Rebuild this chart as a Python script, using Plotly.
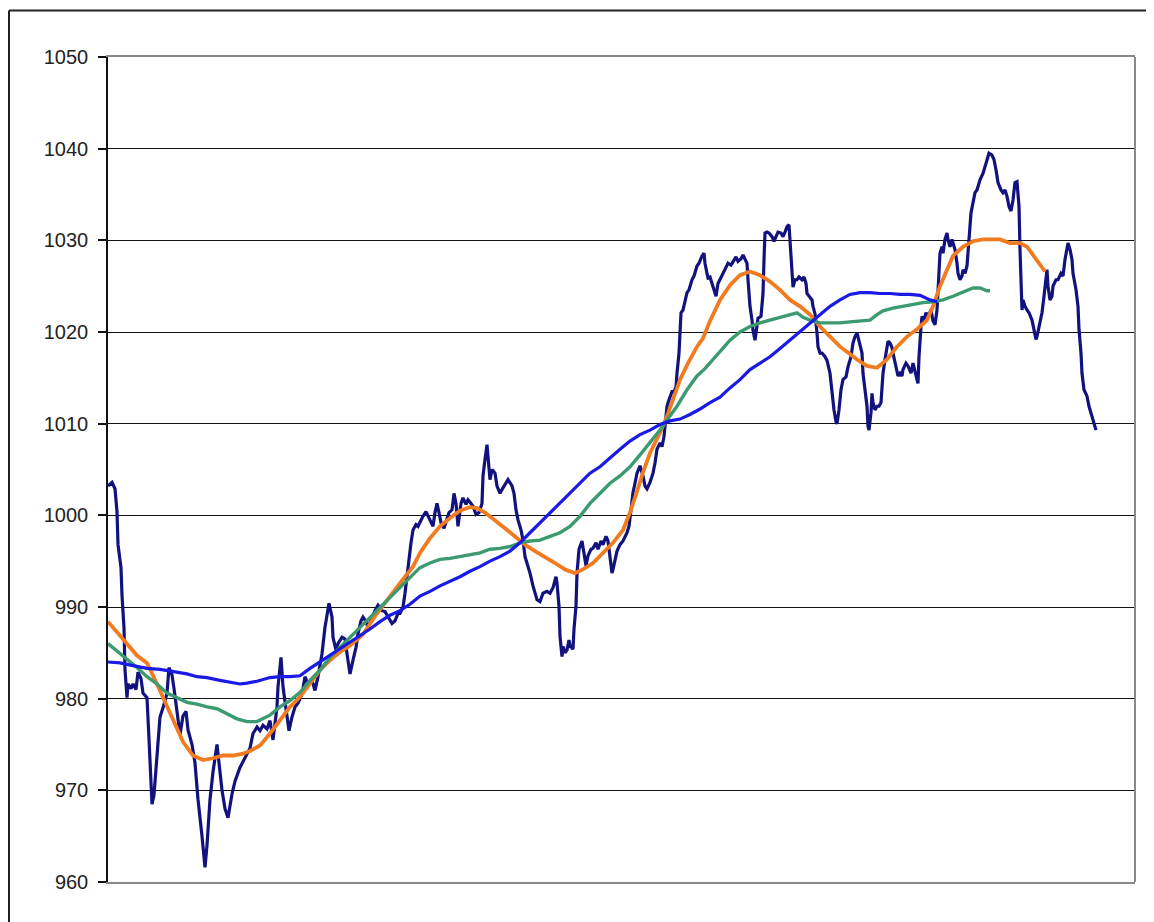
import plotly.graph_objects as go

# ---- data (x = trading-day index, y = index level) ----
price = [
    (0,1003.2),(4,1003.6),(7,1002.9),(9,1000.4),(10,996.8),(13,994.3),(14,991.3),(16,987.7),(17,983.2),(19,980.1),
    (20,981.6),(23,981.1),(25,981.6),(28,981.0),(30,982.9),(33,982.2),(35,980.6),(39,980.1),(41,975.6),(44,968.5),
    (46,969.5),(49,974.0),(52,978.0),(55,979.0),(59,980.6),(61,983.4),(64,982.6),(66,981.1),(69,978.4),(72,976.1),
    (75,978.1),(78,978.6),(80,976.6),(84,975.0),(87,973.0),(90,969.0),(94,965.0),(97,961.6),(99,964.0),(102,969.0),
    (105,972.0),(109,975.0),(111,973.0),(114,970.0),(117,968.0),(120,967.0),(124,969.6),(127,971.0),(132,972.5),(137,973.5),
    (142,974.6),(145,976.2),(149,976.9),(152,976.5),(155,977.1),(159,976.7),(162,977.6),(165,975.5),(169,979.1),(170,981.3),
    (173,984.5),(175,981.3),(177,979.5),(179,978.0),(181,976.5),(184,978.0),(187,979.1),(190,979.5),(194,980.5),(197,982.4),
    (200,981.6),(204,982.0),(207,980.9),(210,982.4),(214,984.9),(217,987.8),(219,989.3),(221,990.4),(224,988.9),(225,986.7),
    (228,985.3),(230,986.0),(234,986.7),(237,986.5),(239,984.9),(242,982.7),(245,984.2),(248,985.6),(250,987.1),(253,988.5),
    (255,988.9),(258,988.4),(260,987.8),(264,988.9),(267,989.6),(270,990.2),(274,989.6),(277,989.5),(280,988.9),(284,988.2),
    (287,988.5),(290,989.3),(292,989.3),(295,990.0),(297,991.5),(300,994.4),(303,997.0),(305,998.4),(308,999.0),(310,998.8),
    (313,999.5),(315,999.9),(318,1000.4),(320,999.9),(323,999.2),(325,998.8),(327,1000.3),(329,1001.3),(331,1000.3),(333,999.2),
    (336,998.6),(339,999.5),(341,1000.3),(344,1000.6),(346,1002.4),(348,1001.3),(350,998.8),(353,1001.3),(355,1001.9),(358,1001.2),
    (360,1001.7),(363,1001.3),(365,1001.0),(368,1000.1),(371,1000.3),(374,1001.3),(375,1004.3),(377,1006.1),(379,1007.7),(380,1006.4),
    (382,1003.9),(384,1005.0),(387,1004.6),(389,1003.2),(392,1002.4),(395,1003.0),(398,1003.5),(400,1003.9),(404,1003.2),(406,1002.4),
    (408,1000.6),(410,999.5),(413,998.4),(415,997.3),(417,995.5),(419,994.8),(422,993.7),(425,992.3),(427,991.5),(429,990.8),
    (432,990.6),(435,991.5),(439,991.7),(442,991.5),(445,992.1),(448,993.3),(449,992.6),(451,990.1),(452,986.8),(454,984.6),
    (455,985.7),(457,985.0),(459,985.3),(461,986.4),(462,985.8),(465,985.4),(466,987.6),(468,990.1),(469,993.7),(471,996.3),
    (474,997.2),(476,995.6),(478,994.5),(480,995.6),(483,996.3),(485,996.4),(488,997.0),(490,996.3),(493,997.2),(495,996.8),
    (498,997.7),(500,997.2),(502,995.6),(504,993.7),(505,994.1),(507,995.2),(509,996.1),(512,996.8),(515,997.2),(519,998.1),
    (521,998.8),(523,1000.6),(525,1002.5),(527,1003.5),(529,1004.6),(532,1005.4),(535,1004.3),(537,1003.2),(539,1002.9),(542,1003.6),
    (545,1004.6),(547,1005.7),(549,1007.2),(552,1007.9),(554,1007.5),(556,1008.6),(558,1010.4),(559,1011.9),(561,1012.6),(564,1013.5),
    (566,1013.5),(568,1014.0),(569,1015.5),(571,1017.7),(572,1019.9),(573,1022.1),(575,1022.4),(577,1023.2),(579,1024.3),(581,1024.6),
    (584,1025.7),(586,1026.1),(589,1027.2),(591,1027.5),(594,1028.3),(596,1028.6),(597,1027.5),(599,1026.4),(600,1025.9),(602,1026.0),
    (604,1025.3),(606,1024.6),(608,1023.9),(610,1025.3),(613,1026.0),(615,1026.4),(618,1027.1),(620,1027.5),(623,1027.3),(625,1027.7),
    (628,1028.2),(630,1027.7),(633,1028.0),(635,1028.4),(637,1027.9),(639,1027.5),(640,1025.7),(642,1022.8),(644,1021.3),(645,1020.2),
    (647,1019.1),(649,1020.6),(650,1021.5),(653,1021.7),(655,1024.2),(656,1027.9),(657,1030.8),(659,1030.9),(661,1030.8),(664,1030.4),
    (666,1029.9),(668,1030.4),(670,1030.9),(673,1030.8),(675,1030.4),(677,1030.9),(679,1031.5),(681,1031.7),(682,1029.7),(684,1027.1),
    (685,1024.9),(687,1025.7),(689,1025.7),(691,1026.0),(694,1025.7),(696,1026.0),(698,1025.3),(699,1024.2),(701,1023.9),(704,1023.5),
    (705,1022.8),(707,1022.0),(709,1019.9),(710,1018.4),(712,1017.7),(714,1017.7),(717,1017.3),(719,1016.9),(722,1015.5),(724,1013.3),
    (726,1011.5),(728,1010.2),(729,1010.0),(731,1011.5),(733,1013.7),(735,1014.8),(738,1015.1),(740,1016.2),(743,1017.3),(745,1018.8),
    (747,1019.5),(749,1019.9),(751,1019.1),(752,1018.4),(754,1017.7),(755,1015.5),(757,1013.3),(759,1011.9),(760,1009.7),(761,1009.3),
    (763,1011.2),(764,1013.3),(765,1012.3),(767,1011.5),(769,1011.9),(771,1011.9),(773,1012.3),(774,1014.1),(775,1015.5),(777,1017.0),
    (779,1018.4),(780,1019.0),(782,1018.8),(784,1018.3),(785,1017.7),(787,1016.6),(789,1015.5),(790,1015.2),(792,1015.5),(794,1015.2),
    (795,1015.9),(798,1016.6),(800,1016.3),(803,1015.5),(805,1016.6),(807,1015.5),(809,1014.8),(810,1014.4),(811,1017.3),(813,1020.6),
    (814,1021.7),(816,1021.2),(818,1022.1),(820,1021.7),(823,1022.4),(825,1021.2),(827,1020.8),(829,1022.4),(830,1025.0),(831,1027.9),
    (832,1028.6),(834,1029.3),(835,1028.6),(837,1030.1),(839,1030.8),(840,1030.1),(842,1029.3),(844,1030.1),(845,1029.7),(847,1029.0),
    (849,1027.5),(850,1026.4),(852,1025.7),(854,1026.1),(855,1026.8),(857,1026.4),(859,1027.2),(860,1028.6),(861,1030.4),(863,1033.0),
    (865,1034.1),(867,1035.2),(869,1035.5),(872,1036.6),(875,1037.3),(877,1038.1),(879,1038.8),(881,1039.5),(884,1039.3),(886,1038.8),
    (888,1037.7),(890,1036.3),(893,1035.5),(895,1035.2),(897,1035.5),(899,1034.8),(901,1033.7),(903,1033.2),(905,1034.4),(907,1036.3),
    (909,1036.4),(911,1033.7),(912,1029.0),(913,1025.3),(914,1022.4),(915,1023.5),(917,1022.8),(919,1022.4),(921,1022.1),(924,1021.3),
    (926,1020.3),(928,1019.2),(929,1019.5),(931,1020.6),(934,1022.1),(936,1023.9),(938,1026.4),(939,1026.8),(940,1025.0),(942,1023.5),
    (944,1023.9),(945,1025.0),(948,1025.7),(950,1025.7),(953,1026.4),(955,1026.1),(957,1027.9),(959,1029.3),(960,1029.7),(962,1029.0),
    (964,1027.9),(965,1026.4),(968,1024.6),(970,1022.8),(971,1020.3),(973,1017.7),(974,1015.5),(976,1013.7),(979,1013.0),(981,1011.9),
    (984,1010.8),(986,1010.1),(988,1009.3),
]

orange = [
    (0,988.4),(9,987.2),(19,986.0),(29,984.7),(39,983.9),(49,981.6),(57,979.6),(65,977.6),(75,975.3),(85,973.8),
    (95,973.3),(105,973.5),(115,973.8),(125,973.8),(135,974.0),(142,974.3),(152,974.9),(162,976.2),(172,977.6),(182,979.1),
    (192,980.2),(202,981.6),(212,983.1),(222,984.2),(232,985.1),(242,985.8),(249,986.4),(255,987.0),(267,989.0),(282,991.2),
    (292,992.6),(305,994.4),(312,995.9),(322,997.5),(332,998.8),(342,999.7),(352,1000.5),(362,1000.9),(369,1000.8),(377,1000.3),
    (387,999.5),(397,998.6),(407,997.7),(417,996.8),(427,996.1),(437,995.5),(447,994.8),(457,994.1),(467,993.7),(475,994.1),
    (485,994.8),(495,995.9),(505,997.0),(515,998.4),(522,1000.3),(529,1002.6),(535,1004.7),(542,1006.8),(552,1009.0),(559,1010.8),
    (565,1012.7),(572,1014.8),(580,1016.6),(589,1018.4),(595,1019.3),(602,1021.2),(612,1023.5),(622,1025.1),(632,1026.2),(642,1026.6),
    (652,1026.2),(662,1025.5),(672,1024.6),(682,1023.5),(692,1022.8),(702,1021.9),(712,1020.6),(722,1019.5),(732,1018.4),(742,1017.6),
    (749,1017.0),(759,1016.3),(769,1016.1),(779,1017.0),(789,1018.4),(799,1019.5),(809,1020.3),(819,1021.3),(825,1022.8),(832,1025.0),
    (839,1026.8),(845,1028.3),(855,1029.3),(865,1029.9),(875,1030.1),(885,1030.1),(892,1030.1),(902,1029.7),(912,1029.7),(919,1029.3),
    (925,1028.4),(930,1027.5),(935,1026.8),(937,1026.6),
]

green = [
    (0,986.0),(9,985.2),(19,984.4),(29,983.4),(39,982.4),(49,981.6),(59,980.6),(69,980.1),(79,979.6),(89,979.4),
    (99,979.1),(109,978.9),(119,978.4),(129,977.8),(139,977.5),(149,977.5),(162,978.2),(172,979.1),(182,979.8),(192,980.7),
    (202,982.0),(212,983.1),(222,984.5),(232,985.6),(242,986.7),(252,987.8),(262,988.9),(272,990.0),(282,991.1),(292,992.2),
    (302,993.3),(312,994.3),(322,994.8),(332,995.2),(342,995.3),(352,995.5),(362,995.7),(372,995.9),(382,996.3),(392,996.4),
    (402,996.6),(412,997.0),(422,997.2),(432,997.3),(442,997.7),(452,998.1),(462,998.8),(472,999.9),(482,1001.3),(492,1002.4),
    (502,1003.5),(512,1004.3),(522,1005.3),(532,1006.6),(542,1007.9),(552,1009.3),(559,1010.4),(569,1011.9),(579,1013.7),(589,1015.2),
    (597,1016.0),(602,1016.6),(612,1017.9),(622,1019.1),(632,1020.0),(642,1020.6),(652,1021.0),(662,1021.3),(672,1021.6),(682,1021.9),
    (689,1022.1),(695,1021.6),(702,1021.3),(712,1021.0),(722,1021.0),(732,1021.0),(742,1021.1),(752,1021.2),(762,1021.3),(769,1021.9),
    (775,1022.3),(785,1022.6),(795,1022.8),(805,1023.0),(815,1023.2),(825,1023.3),(835,1023.5),(845,1023.9),(855,1024.4),(865,1024.8),
    (872,1024.8),(879,1024.5),(882,1024.5),
]

blue = [
    (0,984.0),(12,983.9),(25,983.6),(39,983.3),(52,983.2),(65,983.0),(79,982.7),(89,982.4),(99,982.3),(112,982.0),
    (125,981.7),(132,981.6),(139,981.7),(149,981.9),(162,982.3),(172,982.4),(182,982.4),(192,982.5),(202,983.3),(212,984.0),
    (222,984.7),(232,985.5),(242,986.2),(252,986.9),(262,987.6),(272,988.4),(282,989.1),(292,989.6),(302,990.3),(312,991.2),
    (322,991.7),(332,992.3),(342,992.8),(352,993.3),(362,993.9),(372,994.4),(382,995.0),(392,995.5),(402,996.1),(412,997.0),
    (422,998.1),(432,999.2),(442,1000.3),(452,1001.4),(462,1002.5),(472,1003.5),(482,1004.6),(492,1005.3),(502,1006.3),(512,1007.2),
    (522,1008.1),(532,1008.8),(542,1009.3),(552,1009.9),(562,1010.3),(572,1010.5),(582,1011.0),(592,1011.6),(602,1012.3),(612,1012.9),
    (622,1013.9),(632,1014.8),(642,1015.9),(652,1016.6),(662,1017.3),(672,1018.2),(682,1019.1),(692,1020.0),(702,1020.9),(712,1021.9),
    (722,1022.8),(732,1023.5),(742,1024.1),(752,1024.3),(762,1024.3),(772,1024.2),(782,1024.2),(792,1024.1),(802,1024.1),(812,1024.0),
    (822,1023.5),(829,1023.3),
]

y_ticks = [960, 970, 980, 990, 1000, 1010, 1020, 1030, 1040, 1050]
x_extent = [0, 1027]

series = [
    ("price", price, "#12127e", 3.2),
    ("orange", orange, "#f27a1f", 3.8),
    ("green", green, "#3b9a70", 3.4),
    ("blue", blue, "#1a1ae6", 3.2),
]

fig = go.Figure()
for name, pts, color, width in series:
    xs = [p[0] for p in pts]
    ys = [p[1] for p in pts]
    fig.add_trace(go.Scatter(x=xs, y=ys, mode="lines", name=name,
                             line=dict(color=color, width=width), showlegend=False,
                             hoverinfo="skip"))

fig.update_layout(
    width=1146, height=914,
    margin=dict(l=100, r=19, t=49, b=40),
    paper_bgcolor="white", plot_bgcolor="white",
    font=dict(family="Liberation Sans, Arial, sans-serif", size=20, color="#222222"),
    xaxis=dict(range=x_extent, showgrid=False, zeroline=False, showticklabels=False,
               ticks="", showline=True, linecolor="#8a8a8a", linewidth=2, mirror=True),
    yaxis=dict(range=[960, 1050], tickvals=y_ticks, ticktext=[str(v) for v in y_ticks],
               showgrid=True, gridcolor="#111111", gridwidth=1, zeroline=False,
               showline=True, linecolor="#111111", linewidth=1.5,
               ticks="outside", ticklen=8, tickcolor="#111111", tickwidth=1.5,
               ticklabelstandoff=6),
    shapes=[
        dict(type="line", xref="paper", yref="paper", x0=1, x1=1, y0=0, y1=1,
             line=dict(color="#8a8a8a", width=2)),
        dict(type="line", xref="paper", yref="paper", x0=-0.0964, x1=1.1, y0=1.0564, y1=1.0564,
             line=dict(color="#222222", width=2)),
        dict(type="line", xref="paper", yref="paper", x0=-0.0964, x1=-0.0964, y0=-0.1, y1=1.0564,
             line=dict(color="#222222", width=2)),
    ],
)

fig.write_html("out.html")
